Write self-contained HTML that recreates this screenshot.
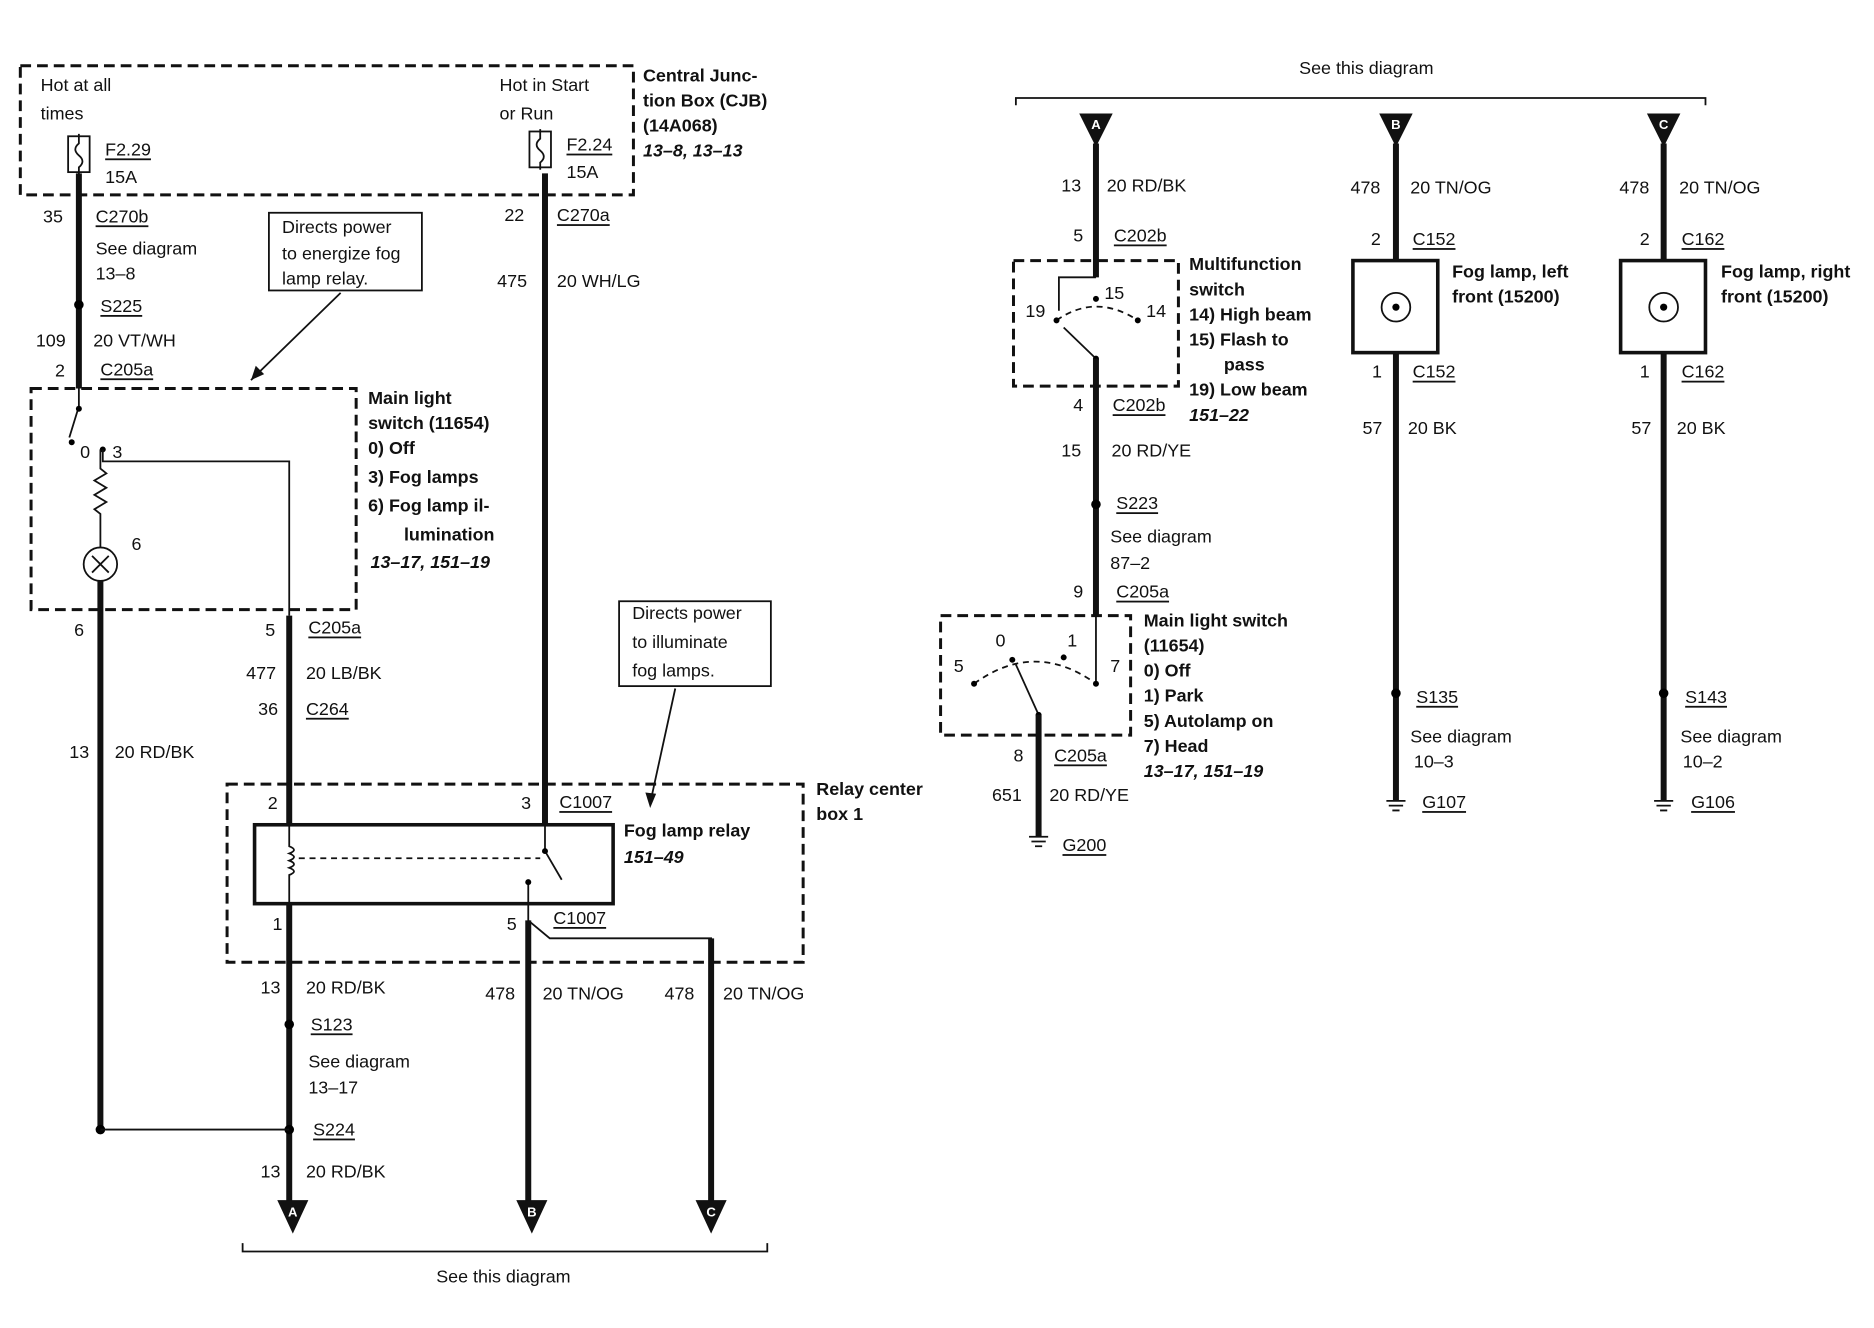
<!DOCTYPE html>
<html><head><meta charset="utf-8"><style>
html,body{margin:0;padding:0;background:#fff}
svg{display:block}
text{font-family:"Liberation Sans",Arial,sans-serif;font-size:15px;fill:#111;dominant-baseline:central}
.b{font-weight:bold}
.i{font-style:italic;font-weight:bold}
.u{text-decoration:underline}
.w{stroke:#111;stroke-width:5;fill:none}
.t{stroke:#111;stroke-width:1.5;fill:none}
.d{stroke:#111;stroke-width:2.5;fill:none;stroke-dasharray:9 5}
.ds{stroke:#111;stroke-width:1.5;fill:none;stroke-dasharray:5 4}
.al{fill:#fff;font-size:11px;font-weight:bold;text-anchor:middle}
</style></head><body>
<svg width="1874" height="1328" viewBox="0 0 1568 1111" preserveAspectRatio="none" xmlns="http://www.w3.org/2000/svg">
<rect width="1568" height="1111" fill="#fff"/>
<!-- CJB -->
<rect x="17" y="55" width="513" height="108" class="d"/>
<text x="34" y="71">Hot at all</text><text x="34" y="95">times</text>
<text x="418" y="71">Hot in Start</text><text x="418" y="95">or Run</text>
<rect x="57" y="114" width="18" height="30" class="t"/><path d="M66 112 v8 q-6 5 0 10 q6 5 0 10 v6" class="t"/>
<rect x="443" y="110" width="18" height="30" class="t"/><path d="M452 108 v8 q-6 5 0 10 q6 5 0 10 v6" class="t"/>
<text x="88" y="125" class="u">F2.29</text><text x="88" y="148">15A</text>
<text x="474" y="121" class="u">F2.24</text><text x="474" y="144">15A</text>
<text x="538" y="63" class="b">Central Junc-</text><text x="538" y="84" class="b">tion Box (CJB)</text>
<text x="538" y="105" class="b">(14A068)</text><text x="538" y="126" class="i">13–8, 13–13</text>
<!-- left wire 1 -->
<path d="M66 145 V325" class="w"/>
<circle cx="66" cy="255" r="4"/>
<text x="36" y="181">35</text><text x="80" y="181" class="u">C270b</text>
<text x="80" y="208">See diagram</text><text x="80" y="229">13–8</text>
<text x="84" y="256" class="u">S225</text>
<text x="30" y="285">109</text><text x="78" y="285">20 VT/WH</text>
<text x="46" y="310">2</text><text x="84" y="309" class="u">C205a</text>
<rect x="225" y="178" width="128" height="65" class="t"/>
<text x="236" y="190">Directs power</text><text x="236" y="212">to energize fog</text><text x="236" y="233">lamp relay.</text>
<path d="M285 245 L210 318" class="t"/><path d="M210 318 l4 -12 l7 7z" fill="#111"/>
<!-- main light switch -->
<rect x="26" y="325" width="272" height="185" class="d"/>
<path d="M66 325 V340 L58 366" class="t"/><circle cx="66" cy="342" r="2.5"/>
<circle cx="60" cy="370" r="2.5"/><circle cx="86" cy="376" r="2.5"/>
<text x="67" y="378">0</text><text x="94" y="378">3</text>
<path d="M86 376 V386 H242 V515" class="t"/>
<path d="M84 376 V392 l5 4 l-10 6 l10 6 l-10 6 l10 6 l-10 6 l5 4 V458" class="t"/>
<circle cx="84" cy="472" r="14" class="t"/><path d="M77 465 l14 14 M91 465 l-14 14" class="t"/>
<text x="110" y="455">6</text>
<text x="308" y="333" class="b">Main light</text><text x="308" y="354" class="b">switch (11654)</text>
<text x="308" y="375" class="b">0)    Off</text><text x="308" y="399" class="b">3)    Fog lamps</text>
<text x="308" y="423" class="b">6)    Fog lamp il-</text><text x="338" y="447" class="b">lumination</text>
<text x="310" y="470" class="i">13–17, 151–19</text>
<path d="M84 486 V945" class="w"/>
<text x="62" y="527">6</text>
<text x="58" y="629">13</text><text x="96" y="629">20 RD/BK</text>
<path d="M242 515 V690" class="w"/>
<text x="222" y="527">5</text><text x="258" y="525" class="u">C205a</text>
<text x="206" y="563">477</text><text x="256" y="563">20 LB/BK</text>
<text x="216" y="593">36</text><text x="256" y="593" class="u">C264</text>
<!-- right wire 475 -->
<path d="M456 145 V690" class="w"/>
<text x="422" y="180">22</text><text x="466" y="180" class="u">C270a</text>
<text x="416" y="235">475</text><text x="466" y="235">20 WH/LG</text>
<rect x="518" y="503" width="127" height="71" class="t"/>
<text x="529" y="513">Directs power</text><text x="529" y="537">to illuminate</text><text x="529" y="561">fog lamps.</text>
<path d="M565 576 L544 672" class="t"/><path d="M544 676 l-4 -13 l9 1z" fill="#111"/>
<!-- relay center -->
<rect x="190" y="656" width="482" height="149" class="d"/>
<text x="683" y="660" class="b">Relay center</text><text x="683" y="681" class="b">box 1</text>
<rect x="213" y="690" width="300" height="66" stroke="#111" stroke-width="3" fill="none"/>
<text x="224" y="672">2</text><text x="436" y="672">3</text><text x="468" y="671" class="u">C1007</text>
<text x="522" y="695" class="b">Fog lamp relay</text><text x="522" y="717" class="i">151–49</text>
<path d="M242 690 V708 q8 3 0 6 q8 3 0 6 q8 3 0 6 q8 3 0 6 V756" class="t"/>
<path d="M250 718 H452" class="ds"/>
<path d="M456 690 V712 L470 736" class="t"/><circle cx="456" cy="712" r="2.5"/>
<path d="M442 738 V770 L460 785 H595 V1020" class="t"/><circle cx="442" cy="738" r="2.5"/>
<path d="M595 785 V1010" class="w"/>
<text x="228" y="773">1</text><text x="424" y="773">5</text><text x="463" y="768" class="u">C1007</text>
<path d="M242 756 V1010" class="w"/><path d="M442 770 V1010" class="w"/>
<circle cx="242" cy="857" r="4"/><circle cx="242" cy="945" r="4"/><circle cx="84" cy="945" r="4"/>
<path d="M84 945 H242" class="t"/>
<text x="218" y="826">13</text><text x="256" y="826">20 RD/BK</text>
<text x="406" y="831">478</text><text x="454" y="831">20 TN/OG</text>
<text x="556" y="831">478</text><text x="605" y="831">20 TN/OG</text>
<text x="260" y="857" class="u">S123</text>
<text x="258" y="888">See diagram</text><text x="258" y="910">13–17</text>
<text x="262" y="945" class="u">S224</text>
<text x="218" y="980">13</text><text x="256" y="980">20 RD/BK</text>
<path d="M232 1004 h26 l-13 28z M432 1004 h26 l-13 28z M582 1004 h26 l-13 28z" fill="#111"/>
<text x="245" y="1014" class="al">A</text><text x="445" y="1014" class="al">B</text><text x="595" y="1014" class="al">C</text>
<path d="M203 1040 V1047 H642 V1040" class="t" stroke-width="2"/>
<text x="365" y="1068">See this diagram</text>
<!-- RIGHT SIDE -->
<text x="1087" y="57">See this diagram</text>
<path d="M850 88 V82 H1427 V88" class="t" stroke-width="2"/>
<path d="M903 95 h28 l-14 28z M1154 95 h28 l-14 28z M1378 95 h28 l-14 28z" fill="#111"/>
<text x="917" y="104" class="al">A</text><text x="1168" y="104" class="al">B</text><text x="1392" y="104" class="al">C</text>
<path d="M917 120 V232" class="w"/>
<text x="888" y="155">13</text><text x="926" y="155">20 RD/BK</text>
<text x="898" y="197">5</text><text x="932" y="197" class="u">C202b</text>
<rect x="848" y="218" width="138" height="105" class="d"/>
<path d="M917 232 H886 V260" class="t"/>
<path d="M884 268 Q917 245 952 268" class="ds"/>
<circle cx="884" cy="268" r="2.5"/><circle cx="917" cy="250" r="2.5"/><circle cx="952" cy="268" r="2.5"/>
<path d="M917 300 L890 274" class="t"/><circle cx="917" cy="300" r="2.5"/>
<text x="858" y="260">19</text><text x="924" y="245">15</text><text x="959" y="260">14</text>
<path d="M917 300 V515" class="w"/>
<text x="995" y="221" class="b">Multifunction</text><text x="995" y="242" class="b">switch</text>
<text x="995" y="263" class="b">14) High beam</text><text x="995" y="284" class="b">15) Flash to</text>
<text x="1024" y="305" class="b">pass</text><text x="995" y="326" class="b">19) Low beam</text>
<text x="995" y="347" class="i">151–22</text>
<text x="898" y="339">4</text><text x="931" y="339" class="u">C202b</text>
<text x="888" y="377">15</text><text x="930" y="377">20 RD/YE</text>
<circle cx="917" cy="422" r="4"/>
<text x="934" y="421" class="u">S223</text>
<text x="929" y="449">See diagram</text><text x="929" y="471">87–2</text>
<text x="898" y="495">9</text><text x="934" y="495" class="u">C205a</text>
<rect x="787" y="515" width="159" height="100" class="d"/>
<path d="M917 515 V570" class="t" stroke-width="2"/>
<path d="M815 572 Q866 535 917 572" class="ds"/>
<circle cx="815" cy="572" r="2.5"/><circle cx="847" cy="552" r="2.5"/><circle cx="890" cy="550" r="2.5"/><circle cx="917" cy="572" r="2.5"/>
<path d="M869 598 L850 556" class="t"/><circle cx="869" cy="598" r="2.5"/>
<text x="798" y="557">5</text><text x="833" y="536">0</text><text x="893" y="536">1</text><text x="929" y="557">7</text>
<path d="M869 598 V700" class="w"/>
<text x="957" y="519" class="b">Main light switch</text><text x="957" y="540" class="b">(11654)</text>
<text x="957" y="561" class="b">0)   Off</text><text x="957" y="582" class="b">1)   Park</text>
<text x="957" y="603" class="b">5)   Autolamp on</text><text x="957" y="624" class="b">7)   Head</text>
<text x="957" y="645" class="i">13–17, 151–19</text>
<text x="848" y="632">8</text><text x="882" y="632" class="u">C205a</text>
<text x="830" y="665">651</text><text x="878" y="665">20 RD/YE</text>
<path d="M861 700 h16 M863 704 h12 M866 708 h6" class="t"/>
<text x="889" y="707" class="u">G200</text>
<!-- B column -->
<path d="M1168 120 V218 M1168 295 V670" class="w"/>
<rect x="1132" y="218" width="71" height="77" stroke="#111" stroke-width="3" fill="none"/>
<circle cx="1168" cy="257" r="12" class="t"/><circle cx="1168" cy="257" r="3"/>
<text x="1130" y="157">478</text><text x="1180" y="157">20 TN/OG</text>
<text x="1147" y="200">2</text><text x="1182" y="200" class="u">C152</text>
<text x="1215" y="227" class="b">Fog lamp, left</text><text x="1215" y="248" class="b">front (15200)</text>
<text x="1148" y="311">1</text><text x="1182" y="311" class="u">C152</text>
<text x="1140" y="358">57</text><text x="1178" y="358">20 BK</text>
<circle cx="1168" cy="580" r="4"/><text x="1185" y="583" class="u">S135</text>
<text x="1180" y="616">See diagram</text><text x="1183" y="637">10–3</text>
<path d="M1160 670 h16 M1162 674 h12 M1165 678 h6" class="t"/>
<text x="1190" y="671" class="u">G107</text>
<!-- C column -->
<path d="M1392 120 V218 M1392 295 V670" class="w"/>
<rect x="1356" y="218" width="71" height="77" stroke="#111" stroke-width="3" fill="none"/>
<circle cx="1392" cy="257" r="12" class="t"/><circle cx="1392" cy="257" r="3"/>
<text x="1355" y="157">478</text><text x="1405" y="157">20 TN/OG</text>
<text x="1372" y="200">2</text><text x="1407" y="200" class="u">C162</text>
<text x="1440" y="227" class="b">Fog lamp, right</text><text x="1440" y="248" class="b">front (15200)</text>
<text x="1372" y="311">1</text><text x="1407" y="311" class="u">C162</text>
<text x="1365" y="358">57</text><text x="1403" y="358">20 BK</text>
<circle cx="1392" cy="580" r="4"/><text x="1410" y="583" class="u">S143</text>
<text x="1406" y="616">See diagram</text><text x="1408" y="637">10–2</text>
<path d="M1384 670 h16 M1386 674 h12 M1389 678 h6" class="t"/>
<text x="1415" y="671" class="u">G106</text>
</svg>
</body></html>
